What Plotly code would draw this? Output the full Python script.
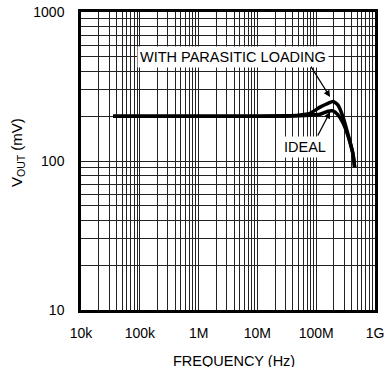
import plotly.graph_objects as go

# Data (frequency in Hz, output in mV)
freq = [3.5e4, 1e5, 1e6, 1e7, 3e7, 5e7, 7.85e7, 1.16e8, 1.59e8, 1.93e8, 2.35e8, 2.86e8, 3.47e8, 4.23e8, 4.5e8]
vout_parasitic = [200, 200, 200, 200, 201, 203, 209, 230, 244, 251, 237, 197, 151, 111, 91]
vout_ideal = [200, 200, 200, 200, 200, 201, 203, 206, 216, 217, 204, 180, 148, 111, 91]

x_tick_vals = [1e4, 1e5, 1e6, 1e7, 1e8, 1e9]
x_tick_text = ["10k", "100k", "1M", "10M", "100M", "1G"]
y_tick_vals = [10, 100, 1000]
y_tick_text = ["10", "100", "1000"]
x_title = "FREQUENCY (Hz)"
y_title = "V<sub>OUT</sub> (mV)"

x_minor = [m * 10 ** d for d in range(4, 9) for m in range(2, 10)]
y_minor = [m * 10 ** d for d in range(1, 3) for m in range(2, 10)]

FONT = "Liberation Sans, Arial, sans-serif"
GRID = "#222"

fig = go.Figure()
fig.add_trace(go.Scatter(x=freq, y=vout_ideal, mode="lines",
                         line=dict(color="black", width=3.5, shape="spline", smoothing=0.6),
                         showlegend=False))
fig.add_trace(go.Scatter(x=freq, y=vout_parasitic, mode="lines",
                         line=dict(color="black", width=3.5, shape="spline", smoothing=0.6),
                         showlegend=False))

fig.update_xaxes(type="log", range=[4, 9], tickvals=x_tick_vals, ticktext=x_tick_text,
                 showgrid=True, gridcolor=GRID, gridwidth=1.4, automargin=False,
                 minor=dict(tickvals=x_minor, showgrid=True, gridcolor=GRID, gridwidth=1.4, ticks=""),
                 showline=True, linecolor="black", linewidth=2.5, mirror=True,
                 ticks="", ticklabelstandoff=8, zeroline=False,
                 tickfont=dict(family=FONT, size=14, color="black"))
fig.update_yaxes(type="log", range=[1, 3], tickvals=y_tick_vals, ticktext=y_tick_text,
                 showgrid=True, gridcolor=GRID, gridwidth=1.4, automargin=False,
                 minor=dict(tickvals=y_minor, showgrid=True, gridcolor=GRID, gridwidth=1.4, ticks=""),
                 showline=True, linecolor="black", linewidth=2.5, mirror=True,
                 ticks="", ticklabelstandoff=11, zeroline=False,
                 tickfont=dict(family=FONT, size=14, color="black"))

# Axis titles
fig.add_annotation(x=0.52, y=-0.171, xref="paper", yref="paper", text=x_title,
                   showarrow=False, xanchor="center", yanchor="middle",
                   font=dict(family=FONT, size=14.5, color="black"))
fig.add_annotation(x=-0.214, y=0.527, xref="paper", yref="paper", text=y_title,
                   showarrow=False, textangle=-90, xanchor="center", yanchor="middle",
                   font=dict(family=FONT, size=15, color="black"))

# Labels
fig.add_annotation(x=6.593, y=2.698, xref="x", yref="y", text="WITH PARASITIC LOADING",
                   showarrow=False, bgcolor="white", borderpad=2,
                   font=dict(family=FONT, size=14.5, color="black"))
fig.add_annotation(x=7.81, y=2.094, xref="x", yref="y", text="IDEAL",
                   showarrow=False, bgcolor="white", borderpad=2,
                   font=dict(family=FONT, size=14.5, color="black"))
# Arrows
fig.add_annotation(x=8.235, y=2.43, ax=7.895, ay=2.644, xref="x", yref="y", axref="x", ayref="y",
                   text="", showarrow=True, arrowhead=2, arrowsize=1, arrowwidth=1.3, arrowcolor="black")
fig.add_annotation(x=8.235, y=2.329, ax=8.014, ay=2.161, xref="x", yref="y", axref="x", ayref="y",
                   text="", showarrow=True, arrowhead=2, arrowsize=1, arrowwidth=1.3, arrowcolor="black")

fig.update_layout(width=390, height=367, margin=dict(l=81, r=15, t=12, b=57),
                  plot_bgcolor="white", paper_bgcolor="white",
                  font=dict(family=FONT, color="black"))

fig.write_html("out.html", config={"displayModeBar": False},
               post_script="document.body.style.margin='0';document.body.style.overflow='hidden';")
